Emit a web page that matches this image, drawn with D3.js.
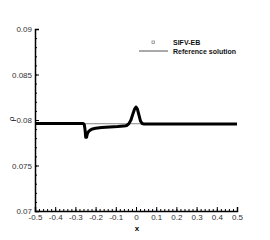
<!DOCTYPE html>
<html>
<head>
<meta charset="utf-8">
<script src="https://cdn.jsdelivr.net/npm/d3@7"></script>
<style>
body { margin: 0; background: #fff; }
svg { font-family: "Liberation Sans", Arial, sans-serif; }
.tick text { fill: #333; font-size: 8px; }
</style>
</head>
<body>
<script>
let width = 270,
    height = 240,
    margin = { top: 29, right: 33, bottom: 29, left: 35 };

// numerical solution (dense markers in the original)
let xNum = [-0.5, -0.4, -0.3, -0.262, -0.256, -0.252, -0.249, -0.245, -0.24, -0.232, -0.22, -0.2, -0.17, -0.13,
    -0.09, -0.06, -0.045, -0.035, -0.025, -0.015, -0.007, 0, 0.007, 0.015, 0.022, 0.03, 0.04, 0.1, 0.3, 0.5];
let rhoNum = [0.07962, 0.07962, 0.07962, 0.07962, 0.0795, 0.0789, 0.0781, 0.0781, 0.07855, 0.0788, 0.07898, 0.0791, 0.07918, 0.07924,
    0.07928, 0.07933, 0.0794, 0.0796, 0.08, 0.0807, 0.0812, 0.08143, 0.0812, 0.0805, 0.0799, 0.07962, 0.07957, 0.07957, 0.07957, 0.07957];

// reference solution
let xRef = [-0.5, 0.5];
let rhoRef = [0.07959, 0.07959];

let xTicks = [-0.5, -0.4, -0.3, -0.2, -0.1, 0, 0.1, 0.2, 0.3, 0.4, 0.5];
let yTicks = [0.07, 0.075, 0.08, 0.085, 0.09];
let legendLabels = ["SIFV-EB", "Reference solution"];

let svg = d3.select("body").append("svg")
    .attr("width", width)
    .attr("height", height);

let x = d3.scaleLinear().domain([-0.5, 0.5]).range([margin.left, width - margin.right]);
let y = d3.scaleLinear().domain([0.07, 0.09]).range([height - margin.bottom, margin.top]);

let fmt = d => String(+d.toFixed(3));

// minor ticks
svg.append("g")
    .attr("transform", `translate(0, ${y(0.07)})`)
    .call(d3.axisTop(x).tickValues(d3.range(-0.5, 0.5001, 0.02)).tickSize(2).tickFormat(""))
    .call(g => g.select(".domain").remove());
svg.append("g")
    .attr("transform", `translate(${x(-0.5)}, 0)`)
    .call(d3.axisRight(y).tickValues(d3.range(0.07, 0.09001, 0.001)).tickSize(2).tickFormat(""))
    .call(g => g.select(".domain").remove());

// major ticks (inward), labels outside
let xAxis = svg.append("g")
    .attr("transform", `translate(0, ${y(0.07)})`)
    .call(d3.axisTop(x).tickValues(xTicks).tickSize(4).tickFormat(fmt));
xAxis.selectAll(".tick text").attr("y", 3).attr("dy", "0.71em");
xAxis.select(".domain").attr("stroke-width", 1.5);

let yAxis = svg.append("g")
    .attr("transform", `translate(${x(-0.5)}, 0)`)
    .call(d3.axisRight(y).tickValues(yTicks).tickSize(4).tickFormat(fmt));
yAxis.selectAll(".tick text").attr("x", -3).attr("text-anchor", "end");
yAxis.select(".domain").attr("stroke-width", 1.5);

svg.selectAll(".tick line").attr("stroke", "#000");

// axis titles
svg.append("text")
    .attr("x", x(0) + 1)
    .attr("y", 231)
    .attr("text-anchor", "middle")
    .attr("font-size", 8)
    .attr("font-weight", "bold")
    .text("x");

svg.append("text")
    .attr("transform", `translate(14, 119) rotate(-90)`)
    .attr("text-anchor", "middle")
    .attr("font-size", 8)
    .text("ρ");

let line = d3.line().x(d => x(d[0])).y(d => y(d[1]));

svg.append("path")
    .datum(xRef.map((v, i) => [v, rhoRef[i]]))
    .attr("fill", "none")
    .attr("stroke", "#888")
    .attr("stroke-width", 1)
    .attr("d", line);

svg.append("path")
    .datum(xNum.map((v, i) => [v, rhoNum[i]]))
    .attr("fill", "none")
    .attr("stroke", "#000")
    .attr("stroke-width", 3)
    .attr("stroke-linejoin", "round")
    .attr("d", line);

// legend
let legend = svg.append("g").attr("transform", "translate(139, 42)");
legend.append("rect")
    .attr("x", 13).attr("y", -1)
    .attr("width", 2.5).attr("height", 2.5)
    .attr("fill", "#fff").attr("stroke", "#888").attr("stroke-width", 0.8);
legend.append("line")
    .attr("x1", 0).attr("x2", 29)
    .attr("y1", 9).attr("y2", 9)
    .attr("stroke", "#555").attr("stroke-width", 1);
legend.selectAll("text.lbl")
    .data(legendLabels)
    .enter()
    .append("text")
    .attr("class", "lbl")
    .attr("x", 34)
    .attr("y", (d, i) => i * 9 + 2.5)
    .attr("font-size", 7)
    .attr("font-weight", "bold")
    .attr("fill", "#111")
    .text(d => d);
</script>
</body>
</html>
